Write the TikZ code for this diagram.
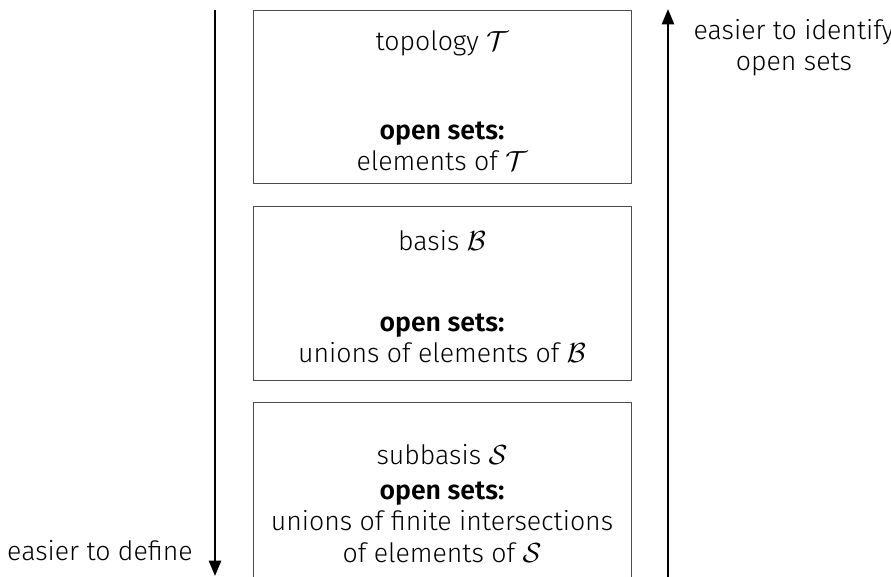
\documentclass[tikz,border=0pt]{standalone}
\usepackage{fontspec}
\IfFontExistsTF{Fira Sans Light}{%
  \setmainfont{Fira Sans Light}[BoldFont={Fira Sans SemiBold}]%
}{%
  \setmainfont{Fira Sans}%
}
\usetikzlibrary{arrows.meta}
\tikzset{
  level/.style={draw=black!70, line width=0.8pt, rectangle, anchor=north west,
    minimum width=378pt, inner sep=0pt},
  label/.style={align=center, inner sep=0pt, font=\fontsize{20}{23.5}\selectfont},
  flow/.style={line width=1.9pt, -{Triangle[length=11.5pt, width=9pt]}},
}
\begin{document}
\begin{tikzpicture}[x=0.75pt, y=-0.75pt]
  \useasboundingbox (0,0) rectangle (891,576);
  \clip (0,0) rectangle (891,576);

  % the three levels of generating data
  \node[level, minimum width=378.5*0.75pt, minimum height=173.5*0.75pt] (top) at (252.5,9.5) {};
  \node[level, minimum width=378.5*0.75pt, minimum height=174.5*0.75pt] (bas) at (252.5,205.7) {};
  \node[level, minimum width=378.5*0.75pt, minimum height=200*0.75pt] (sub) at (252.5,402) {};

  % texts of the topology box
  \node[label] (topname) at (442,43) {topology $\mathcal{T}$};
  \node[label] (topopen) at (442,146) {\textbf{open sets:}\\ elements of $\mathcal{T}$};

  % texts of the basis box
  \node[label] (basname) at (442,241) {basis $\mathcal{B}$};
  \node[label] (basopen) at (442,338) {\textbf{open sets:}\\ unions of elements of $\mathcal{B}$};

  % texts of the subbasis box
  \node[label] (subname) at (442,455) {subbasis $\mathcal{S}$};
  \node[label] (subopen) at (442,522) {\textbf{open sets:}\\ unions of finite intersections\\ of elements of $\mathcal{S}$};

  % direction arrows
  \coordinate (dtop) at (215,10);
  \coordinate (dbot) at (215,576);
  \coordinate (itop) at (668,9);
  \coordinate (ibot) at (668,580);
  \draw[flow] (dtop) -- (dbot);
  \draw[flow] (ibot) -- (itop);

  \node[label] (define) at (100,551) {easier to define};
  \node[label] (identify) at (794,48) {easier to identify\\ open sets};
\end{tikzpicture}
\end{document}
